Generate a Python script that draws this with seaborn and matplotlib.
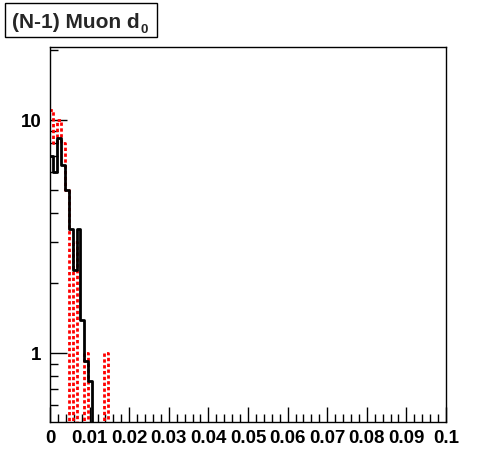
import numpy as np
import pandas as pd
import matplotlib
matplotlib.use("Agg")
import matplotlib.pyplot as plt
import seaborn as sns
from matplotlib.patches import Rectangle
from matplotlib.ticker import FixedLocator, NullFormatter, FixedFormatter

# ---- data ----
bin_start = -0.0003
bin_width = 0.001
black_counts = [7.0, 6.0, 8.4, 6.45, 5.0, 3.4, 2.28, 3.4, 1.39, 0.92, 0.755]
red_counts = [11.1, 8.0, 10.0, 8.0, 5.0, 0, 3.0, 0, 0, 1.0, 0, 0, 0, 0, 1.0]
x_ticks = [0, 0.01, 0.02, 0.03, 0.04, 0.05, 0.06, 0.07, 0.08, 0.09, 0.1]
x_tick_labels = ["0", "0.01", "0.02", "0.03", "0.04", "0.05", "0.06", "0.07", "0.08", "0.09", "0.1"]
y_ticks = [1, 10]
y_tick_labels = ["1", "10"]
title = "(N-1) Muon d"
title_sub = "0"

sns.set_style("white")
plt.rcParams['font.family'] = ['Liberation Sans', 'DejaVu Sans']
plt.rcParams['font.weight'] = 'bold'

FLOOR = 1e-3


def step_frame(counts):
    n = len(counts)
    edges = bin_start + bin_width * np.arange(n + 2)
    vals = [max(c, FLOOR) for c in counts] + [FLOOR, FLOOR]
    xs, ys = [], []
    for i in range(n + 1):
        xs += [edges[i], edges[i + 1]]
        ys += [vals[i], vals[i]]
    xs += [0.12]
    ys += [FLOOR]
    return pd.DataFrame({"x": xs, "y": ys})


fig = plt.figure(figsize=(4.96, 4.72), dpi=100)
ax = fig.add_axes([50 / 496, 1 - 422 / 472, 396 / 496, 375 / 472])

red_df = step_frame(red_counts)
black_df = step_frame(black_counts)
sns.lineplot(data=red_df, x="x", y="y", ax=ax, estimator=None, sort=False,
             color="#ff0000", lw=2.0, linestyle=(0, (1.2, 0.9)), zorder=2)
sns.lineplot(data=black_df, x="x", y="y", ax=ax, estimator=None, sort=False,
             color="black", lw=2.0, zorder=3)

ax.set_yscale("log")
ax.set_xlim(0, 0.1)
ax.set_ylim(0.505, 20.7)
ax.set_xlabel("")
ax.set_ylabel("")

for s in ax.spines.values():
    s.set_visible(True)
    s.set_color("black")
    s.set_linewidth(1.0)

ax.xaxis.set_major_locator(FixedLocator(x_ticks))
ax.xaxis.set_major_formatter(FixedFormatter(x_tick_labels))
ax.xaxis.set_minor_locator(FixedLocator(np.arange(0, 0.1001, 0.002)))
ax.yaxis.set_major_locator(FixedLocator(y_ticks))
ax.yaxis.set_major_formatter(FixedFormatter(y_tick_labels))
ax.yaxis.set_minor_locator(FixedLocator([0.6, 0.7, 0.8, 0.9, 2, 3, 4, 5, 6, 7, 8, 9, 20]))
ax.yaxis.set_minor_formatter(NullFormatter())

ax.tick_params(axis="both", which="both", direction="in", colors="black",
               bottom=True, left=True, top=False, right=False)
ax.tick_params(axis="x", which="major", length=11, width=1, pad=6, labelsize=13.5)
ax.tick_params(axis="x", which="minor", length=6, width=1)
ax.tick_params(axis="y", which="major", length=12, width=1, pad=6, labelsize=13.5)
ax.tick_params(axis="y", which="minor", length=6, width=1)
for lbl in ax.get_xticklabels() + ax.get_yticklabels():
    lbl.set_fontweight("bold")

# title box
fig.patches.append(Rectangle((5 / 496, 1 - 37 / 472), 152 / 496, 34 / 472,
                             transform=fig.transFigure, fill=True, facecolor="white",
                             edgecolor="black", lw=1.0))
t_main = fig.text(12 / 496, 1 - 28 / 472, title,
                  fontsize=15, fontweight="bold", va="baseline", ha="left")
fig.canvas.draw()
bb = t_main.get_window_extent(renderer=fig.canvas.get_renderer())
fig.text((bb.x1 + 1) / 496, 1 - 33 / 472, title_sub,
         fontsize=9.5, fontweight="bold", va="baseline", ha="left")

fig.savefig("out.png", dpi=100, facecolor="white")
